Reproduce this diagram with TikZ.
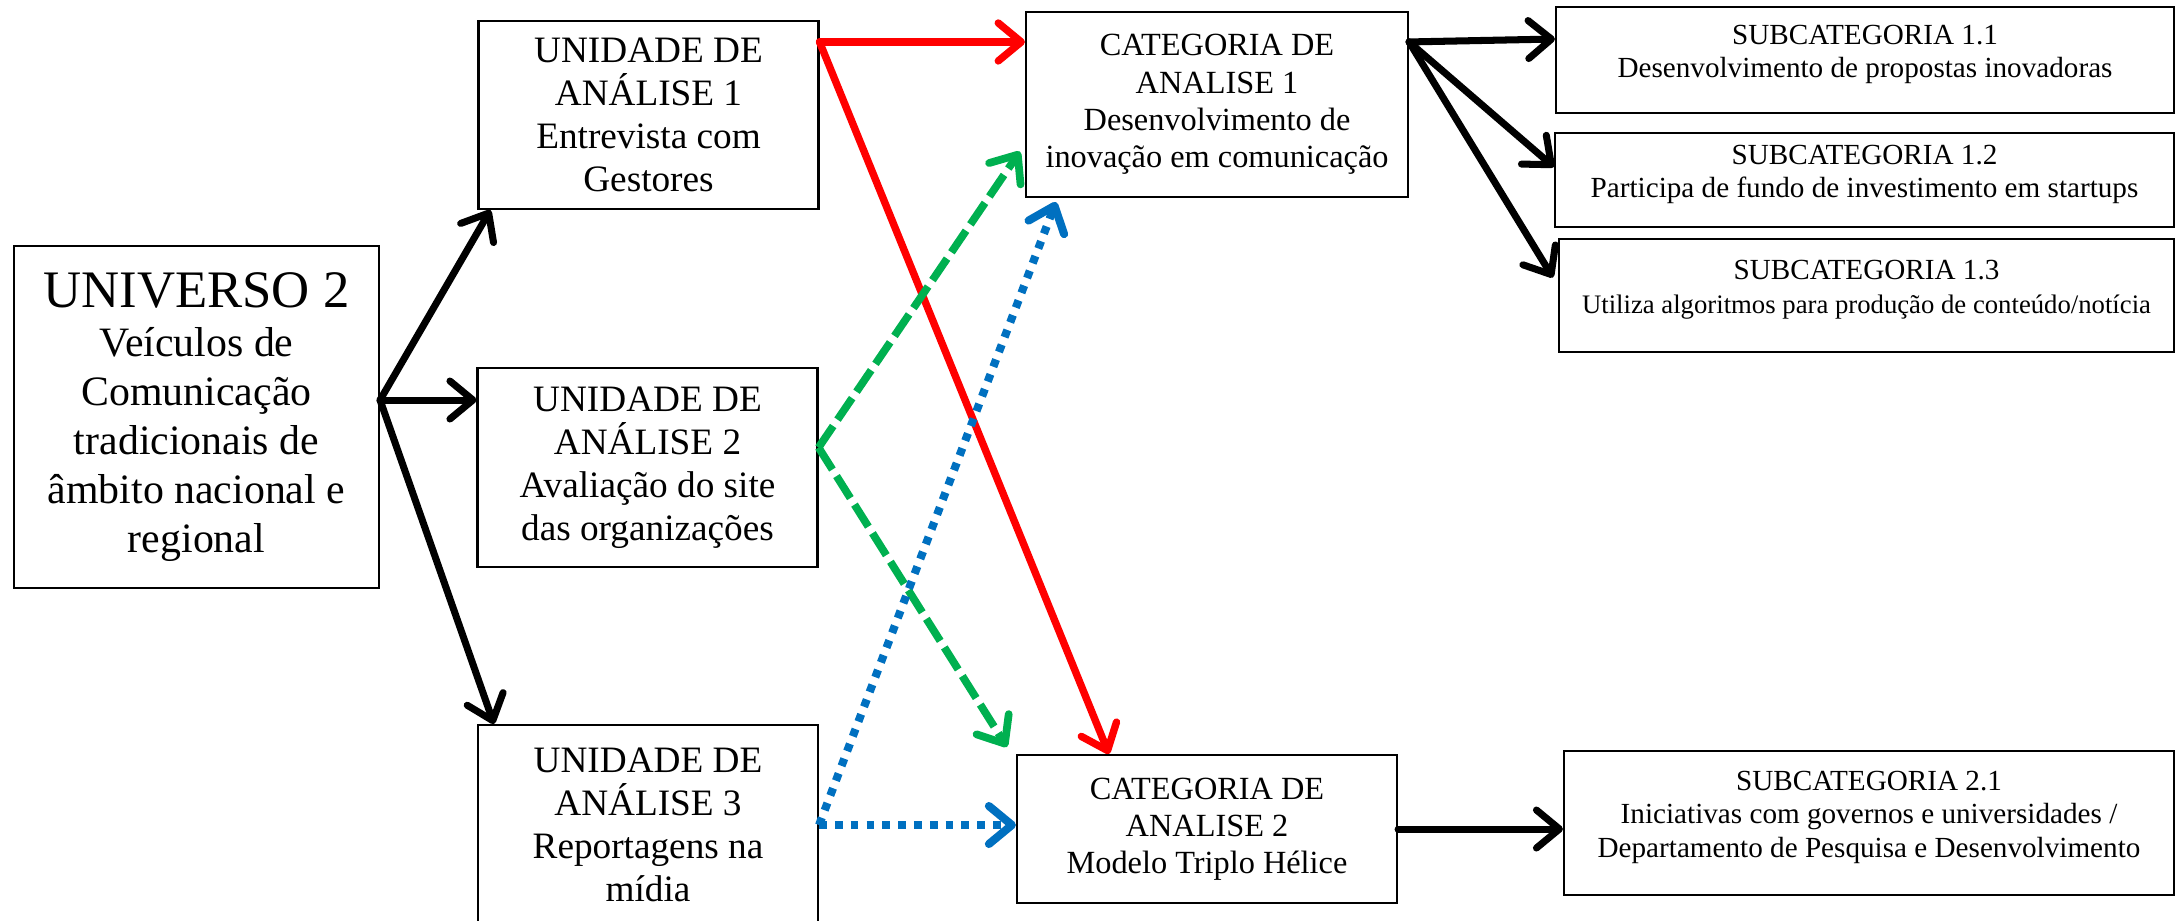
\documentclass[tikz,border=0pt]{standalone}
\usepackage{fontspec}
\setmainfont{Liberation Serif}
\usepackage{tikz}
\usetikzlibrary{arrows.meta,positioning,calc}
\definecolor{wordred}{RGB}{255,0,0}
\definecolor{wordgreen}{RGB}{0,176,80}
\definecolor{wordblue}{RGB}{0,112,192}

\begin{document}
\begin{tikzpicture}[
    box/.style={rectangle, draw=black, line width=0.6pt, align=center, inner sep=1pt},
    unitbox/.style={box, minimum width=3.4cm, font=\fontsize{10.6}{12.2}\selectfont},
    catbox/.style={box, minimum width=3.8cm, font=\fontsize{9.2}{10.6}\selectfont},
    subbox/.style={box, text depth=5pt, font=\fontsize{8.3}{9.5}\selectfont},
    arrow/.style={-{Straight Barb[round,length=2.3mm,width=3.8mm]}, line width=2pt, line cap=round},
    redarrow/.style={arrow, wordred, line width=2.1pt},
    greenarrow/.style={arrow, wordgreen, line width=2.2pt, line cap=butt, dash pattern=on 7.4pt off 2.2pt},
    bluearrow/.style={arrow, wordblue, line width=2.3pt, line cap=butt, dash pattern=on 2.2pt off 2.3pt}
]
\useasboundingbox (0,0) rectangle (21.79,-9.20);

% Universe
\node[box, minimum width=3.65cm, minimum height=3.42cm, font=\fontsize{11.9}{13.9}\selectfont] (univ) at (1.965,-4.17)
    {{\fontsize{15}{16}\selectfont UNIVERSO 2}\\Veículos de\\Comunicação\\tradicionais de\\âmbito nacional e\\regional};

% Units of analysis
\node[unitbox, minimum height=1.88cm] (ua1) at (6.485,-1.15) {UNIDADE DE\\ANÁLISE 1\\Entrevista com\\Gestores};
\node[unitbox, minimum height=1.99cm] (ua2) at (6.475,-4.675) {UNIDADE DE\\ANÁLISE 2\\Avaliação do site\\das organizações};
\node[unitbox, minimum height=2.00cm] (ua3) at (6.48,-8.25) {UNIDADE DE\\ANÁLISE 3\\Reportagens na\\mídia};

% Categories
\node[catbox, minimum width=3.82cm, minimum height=1.85cm] (cat1) at (12.17,-1.045) {CATEGORIA DE\\ANALISE 1\\Desenvolvimento de\\inovação em comunicação};
\node[catbox, minimum height=1.48cm] (cat2) at (12.07,-8.29) {CATEGORIA DE\\ANALISE 2\\Modelo Triplo Hélice};

% Subcategories
\node[subbox, minimum width=6.18cm, minimum height=1.06cm] (sub11) at (18.65,-0.60) {SUBCATEGORIA 1.1\\Desenvolvimento de propostas inovadoras};
\node[subbox, minimum width=6.19cm, minimum height=0.94cm] (sub12) at (18.645,-1.80) {SUBCATEGORIA 1.2\\Participa de fundo de investimento em startups};
\node[subbox, minimum width=6.15cm, minimum height=1.13cm] (sub13) at (18.665,-2.955) {SUBCATEGORIA 1.3\\{\fontsize{7.6}{9.5}\selectfont Utiliza algoritmos para produção de conteúdo/notícia}};
\node[subbox, minimum width=6.10cm, minimum height=1.44cm] (sub21) at (18.69,-8.23) {SUBCATEGORIA 2.1\\Iniciativas com governos e universidades /\\Departamento de Pesquisa e Desenvolvimento};

% Universe to units
\coordinate (fork) at ([yshift=0.17cm]univ.east);
\draw[arrow] (fork) -- ([xshift=0.13cm]ua1.south west);
\draw[arrow] (fork) -- (fork -| ua2.west);
\draw[arrow] (fork) -- ([xshift=0.17cm]ua3.north west);

% Units to categories
\coordinate (redstart) at ([yshift=-0.22cm]ua1.north east);
\draw[redarrow] (redstart) -- (redstart -| cat1.west);
\draw[redarrow] (redstart) -- ([xshift=0.93cm]cat2.north west);

\coordinate (greenstart) at ([yshift=0.2cm]ua2.east);
\draw[greenarrow] (greenstart) -- ([xshift=-0.05cm,yshift=-0.47cm]cat1.west);
\draw[greenarrow] (greenstart) -- ([xshift=-0.09cm,yshift=0.07cm]cat2.north west);

\draw[bluearrow] (ua3.east) -- ([xshift=0.31cm,yshift=-0.04cm]cat1.south west);
\draw[bluearrow] (ua3.east) -- (ua3.east -| cat2.west);

% Categories to subcategories
\coordinate (blackstart) at ([yshift=-0.31cm]cat1.north east);
\draw[arrow] (blackstart) -- ([yshift=0.21cm]sub11.west);
\draw[arrow] (blackstart) -- ([yshift=0.13cm]sub12.west);
\draw[arrow] (blackstart) -- ([xshift=-0.05cm,yshift=0.18cm]sub13.west);
\draw[arrow] (cat2.east) -- (cat2.east -| sub21.west);

\end{tikzpicture}
\end{document}
